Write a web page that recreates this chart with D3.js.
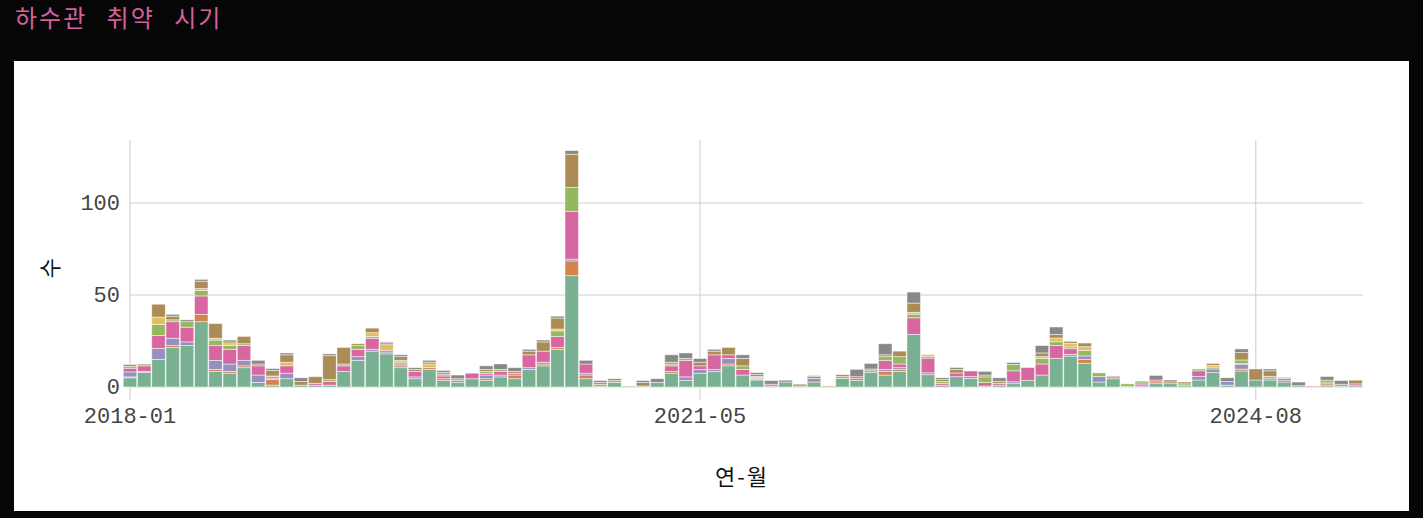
<!DOCTYPE html>
<html><head><meta charset="utf-8">
<script src="https://cdn.jsdelivr.net/npm/d3@7"></script>
<style>body{margin:0;background:#060606;}</style></head>
<body><svg id="c" width="1423" height="518"></svg>
<script>
const startYear=2018, nMonths=87;
const tickLabels=["2018-01","2021-05","2024-08"];
const yTicks=[0,50,100];
const seriesNames=["s1","s2","s3","s4","s5","s6","s7","s8"];
const colors=["#79b092","#d4834f","#9590c0","#d866a0","#95b85f","#e3be5c","#ab8c57","#888888"];
const green=[5,8,15,21.5,22.5,35.5,8.5,7.5,10.5,2.5, 1,4.5,1,1,1,8.5,14.5,19.5,18,10.5, 4.5,9.5,3.5,2.5,4.5,3.5,5.5,4.5,9.5,11.5, 20.5,60.5,4.5,0.5,2.5,0.5,0.5,2.5,7.5,3.5, 7.5,8.5,11.5,6.5,3.8,0.5,2.7,0.5,2.7,0, 4.7,3.6,7.8,6.5,8.5,28.6,6.7,1,5.6,4.7, 0.5,1,1.8,3.6,6.5,15.6,16.8,12.9,2.7,4.5, 0.2,0.2,1.8,1.8,0.7,3.8,7.8,1,8.7,3.8, 3.8,2.7,0.7,0,0.7,0.5,0.7];
const orange=[0.5,0,0,1,0,4,1,1,1,0, 3,0,0,0,0,0,0,0,0,1, 0,1,1,0,0,1,0,2,0,1, 1,8,2,1,0,0,0,0,1,0, 0,0,1,0,0.5,0,0,0,0,0, 0,1,0,2,1,0,0,0,0,0, 0,0,0,0,0,0,0,2,0,0, 0,0,1,0,0,0,0,0,1,0, 0,0,0,0,1,0,0];
const purple=[2.7,0.5,6,4,2,0,5,4,3,4, 0.5,3,0,0,0,0,2,1,1,1, 1,0,0,1,0,2,1,0,1,1, 0,1,1,0,0,0,0,0,0,2, 2,1,3,0,0.5,0,0,0,2,0, 0,0,1,1,1,0,1,0,0,1, 0,0,1,0,0,0,1,2,3,0, 0,1,0,0,0,2,2,2,2.5,0, 1,0,0,0,0,0,0];
const pink=[2,3,7,9,8,10,8,8,8,5, 1,4,0,1,2,3,4,6,1,0, 3,0,1.5,0,3,1,2,1,7,6, 6,26,5,0,0,0,0,0,3,9, 2,8,2,3,0.5,1,0,0,0,0, 0,1,0,5,2,9,8,1,2,3, 2,1,6,7,6,7,3,0,0,0, 0,1,1,0,0,3,0,0,0.5,0, 0,1,0,0,0,0,1];
const lightgreen=[1,1,6,1,3,3,3,2,1,0, 0.5,0,0,0,1,1,2,1,0,1, 0,0,1,1,0,1,1,0,0,0, 3,13,0,0,1,0,0,0,1,1, 0,0,0,2,0.5,0,0,0,0,0, 1,0,1,2,4,2,1,1,0,0, 3,0,3.5,0,3,2,1,3,2,0, 1.5,1,0,0,1,1,1,0,2,0, 1,0,0,0,1,0,0];
const yellow=[0,0,4,0,0,1,1,1,0,0, 0,2,0,0,0,0,0,2,3,1, 0,2,0,0,0,0,0,0,0,0, 1,0,0,0,0,0,0,0,0,0, 0,0,0,0,0,0,0,0,0,0, 0,0,0,0,0,1,1,0,0,0, 0,0,0,0,1,2,2,2,0,0, 0,0,0,0,0,0,1,0,0,0, 0,0,0,0,0,0,0];
const brown=[1,0,7,2,0,4,8,1,4,1, 3,4,2,3.6,13,9,1,2.5,1,2, 1,1,1,0,0,1,0,1,2,5, 6,18,0,1,0,0,2,0,1,0, 2,2,4,4,1,0,0,1,1,0.5, 1,0,0,1,3,5,0,1,2,0, 1,1,0,0,2,2,1,2,0,1, 0,0,0,1,1,0,1,0,4,6, 3,1,0,0.5,1,1,2];
const gray=[0,0,0,1,1,1,0,1,0,2, 1,1,2,0,1,0,0,0,0.5,1, 1,1,1,2,0,2,3,2,1,1, 1,2,2,1,1,0,1,2,4,3, 2,1,0,2,1,2,1,0,0.5,0, 0,4,3,6,0,6,0,1,1,0, 2,2,1,0,4,4,0,0,0,0.5, 0,0,2.5,1,0,0,0,2,2,0, 1,0.5,2,0,2,2,0];
const seriesVals=[green,orange,purple,pink,lightgreen,yellow,brown,gray];

const months=d3.range(nMonths).map(i=>{const y=startYear+Math.floor(i/12),m=i%12+1;return y+"-"+String(m).padStart(2,"0");});
const rows=months.map((m,i)=>{const o={month:m};seriesNames.forEach((s,k)=>o[s]=seriesVals[k][i]);return o;});
const stack=d3.stack().keys(seriesNames)(rows);

const svg=d3.select("#c");
svg.append("rect").attr("x",14).attr("y",61).attr("width",1395).attr("height",450).attr("fill","#fff");
svg.append("text").attr("x",15).attr("y",27).attr("fill","#d6609c").attr("font-family","Noto Sans CJK KR").attr("font-size",24).attr("letter-spacing",2).attr("word-spacing",12).text("하수관 취약 시기");

const x=d3.scaleLinear().domain([0,nMonths-1]).range([130,130+14.25*(nMonths-1)]);
const y=d3.scaleLinear().domain([0,100]).range([387,203]);
const bw=13.5;
const mono="Liberation Mono";

const g=svg.append("g");
yTicks.forEach(t=>{g.append("line").attr("x1",130).attr("x2",1363).attr("y1",y(t)).attr("y2",y(t)).attr("stroke","#ccc");
 g.append("text").attr("x",120).attr("y",y(t)+7).attr("text-anchor","end").attr("font-family",mono).attr("font-size",22).attr("fill","#444").text(t);});
tickLabels.forEach(l=>{const i=months.indexOf(l);
 g.append("line").attr("x1",x(i)).attr("x2",x(i)).attr("y1",140).attr("y2",400).attr("stroke","#ccc");
 g.append("text").attr("x",x(i)).attr("y",423).attr("text-anchor","middle").attr("font-family",mono).attr("font-size",22).attr("fill","#444").text(l);});

svg.append("g").selectAll("g").data(stack).join("g").attr("fill",(d,k)=>colors[k])
 .selectAll("rect").data(d=>d.map((v,i)=>({v,i}))).join("rect")
 .attr("x",d=>x(d.i)-bw/2).attr("width",bw)
 .attr("y",d=>y(d.v[1])).attr("height",d=>Math.max(0,y(d.v[0])-y(d.v[1])))
 .attr("stroke","#fff").attr("stroke-opacity",0.6).attr("stroke-width",0.8);

svg.append("text").attr("x",742).attr("y",485).attr("text-anchor","middle").attr("font-family","Noto Sans CJK KR").attr("font-size",22).attr("letter-spacing",2).attr("fill","#111").text("연-월");
svg.append("text").attr("transform","translate(52,268) rotate(-90)").attr("text-anchor","middle").attr("dominant-baseline","middle").attr("font-family","Noto Sans CJK KR").attr("font-size",22).attr("fill","#111").text("수");
</script></body></html>
